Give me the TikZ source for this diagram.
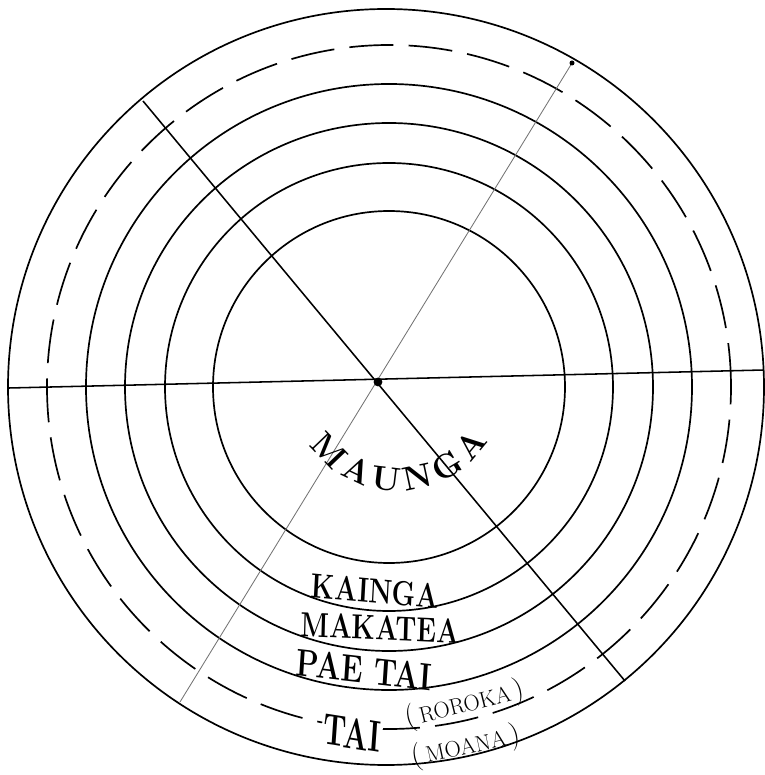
\documentclass[tikz,border=0pt]{standalone}
\usepackage{tikz}
\usetikzlibrary{decorations.text}
\tikzset{
  ring/.style      = {draw,line width=1.2pt},
  shore/.style     = {ring,dash pattern=on 11mm off 3.8mm},
  axis/.style      = {draw,line width=1.1pt},
  faint/.style     = {draw=black!55,line width=0.6pt},
  lettering/.style = {font=\bfseries\fontsize{#1}{#1}\selectfont,
                      yscale=1.3,inner sep=1pt},
  lettering/.default = 19,
  smallcaps/.style = {font=\fontsize{16}{16}\selectfont,inner sep=0pt},
  hubdot/.style    = {circle,fill,inner sep=0pt,minimum size=2.2mm},
}

\begin{document}
\begin{tikzpicture}[x=0.025cm,y=0.025cm]
  \useasboundingbox (-389,-388) rectangle (375,387);
  \coordinate (mc) at (0,0);
  % Rings
  \foreach \r in {176,224,264,303}{
    \draw[ring] (mc) circle[radius=\r];
  }
  \draw[ring] (-3,0) circle[radius=378];
  \draw[shore] (mc) circle[radius=342];
  % Axes through the hub
  \coordinate (west) at (-380,-1);
  \coordinate (east) at (375,17);
  \coordinate (nw) at (-246,286);
  \coordinate (se) at (236,-294);
  \coordinate (ne) at (183,324);
  \coordinate (sw) at (-209,-315);
  \draw[axis] (west) -- (east);
  \draw[axis] (nw) -- (se);
  \draw[faint] (ne) -- (sw);
  \fill (ne) circle[radius=2.5];
  \node[hubdot] (hub) at (-11,5) {};
  % Names of the zones
  \path[decorate,decoration={text along path,text align={fit to path},
        text={|\bfseries\fontsize{24}{24}\selectfont|MAUNGA}}]
        (9,2) ++(214:106) arc[start angle=214,end angle=328,radius=106];
  \node[lettering,rotate=-4] (kainga) at (-14,-204) {KAINGA};
  \node[lettering,rotate=-2] (makatea) at (-9,-241) {MAKATEA};
  \node[lettering=21,rotate=-5] (paetai) at (-25,-283) {PAE TAI};
  \node[lettering=21,yscale=1.15,rotate=-6,fill=white]
        (tai) at (-37,-346) {TAI};
  \node[smallcaps,rotate=14] (roroka) at (76,-318)
        {{\huge(}\,ROROKA\,{\huge)}};
  \node[smallcaps,rotate=12] (moana) at (77,-360)
        {{\huge(}\,MOANA\,{\huge)}};
\end{tikzpicture}
\end{document}
